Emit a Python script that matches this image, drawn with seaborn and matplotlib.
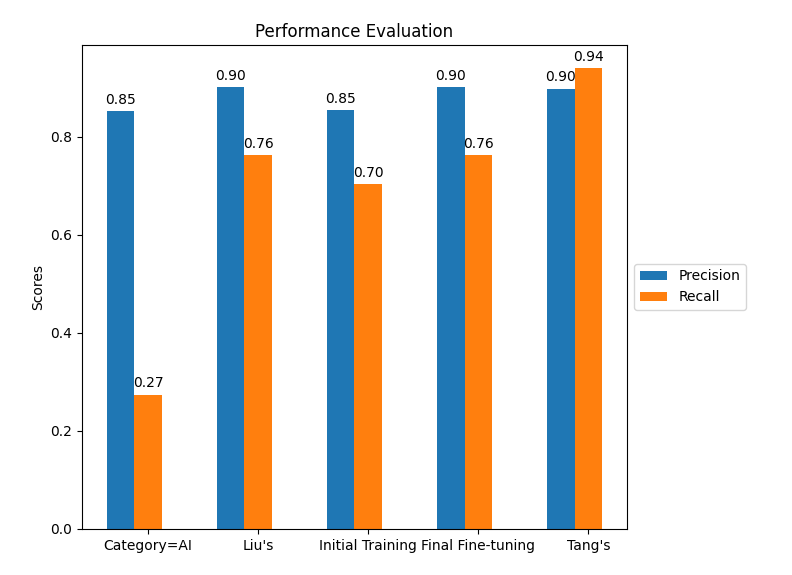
import matplotlib
matplotlib.use("Agg")
import matplotlib.pyplot as plt
import numpy as np
import pandas as pd
import seaborn as sns

# Values
methods = ["Category=AI", "Liu's", "Initial Training", "Final Fine-tuning", "Tang's"]
precision = [0.852, 0.901, 0.854, 0.901, 0.898]
recall = [0.274, 0.762, 0.703, 0.762, 0.940]

df = pd.DataFrame({
    "Method": methods * 2,
    "Metric": ["Precision"] * len(methods) + ["Recall"] * len(methods),
    "Score": precision + recall,
})

fig, ax = plt.subplots(figsize=(7.92, 5.75), dpi=100)
sns.barplot(data=df, x="Method", y="Score", hue="Metric", order=methods,
            palette=["#1f77b4", "#ff7f0e"], saturation=1, width=0.5,
            errorbar=None, ax=ax)

for container in ax.containers:
    ax.bar_label(container, fmt="%.2f", padding=3, fontsize=10)

# tick sits under the recall bar, as in the original
ax.set_xticks(np.arange(len(methods)) + 0.125, methods)
ax.set_xlim(-0.475, len(methods) - 1 + 0.475)

ax.set_title("Performance Evaluation")
ax.set_xlabel("")
ax.set_ylabel("Scores")
ax.legend(loc="center left", bbox_to_anchor=(1, 0.5))

fig.subplots_adjust(left=0.1035, right=0.7917, top=0.922, bottom=0.08)
fig.savefig("out.png", dpi=100)
